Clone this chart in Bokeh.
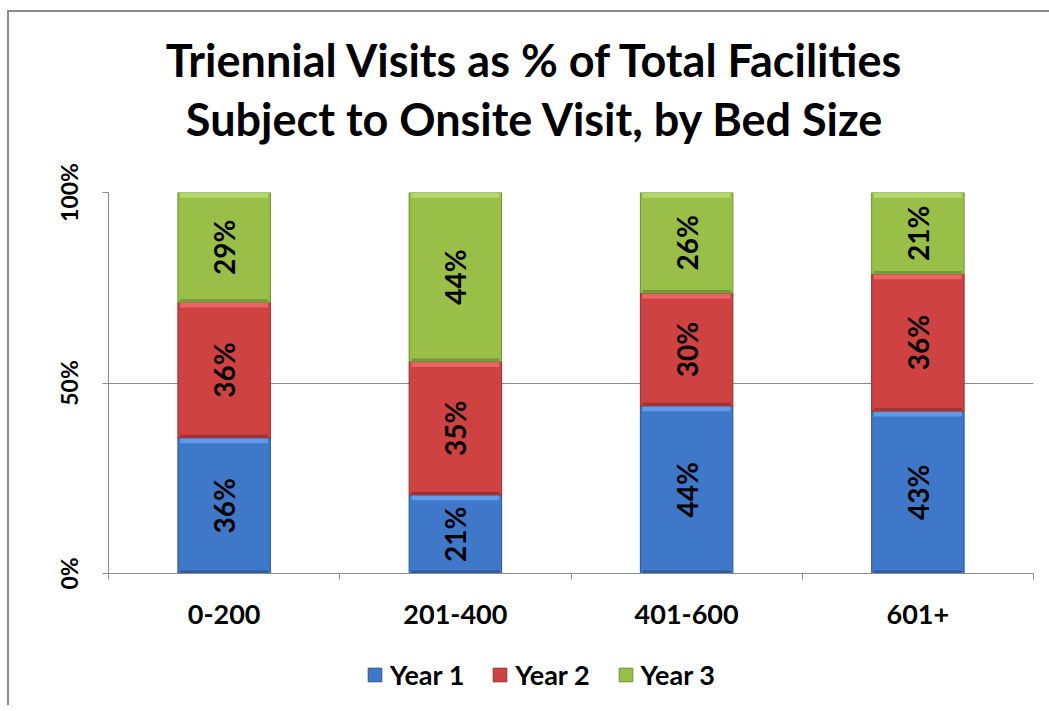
import math
from bokeh.plotting import figure
from bokeh.layouts import column
from bokeh.models import (ColumnDataSource, Range1d, FixedTicker, Legend,
                          LegendItem, Label)
from bokeh.core.properties import value
from bokeh.embed import file_html
from bokeh.resources import INLINE

# ---- data ----
categories = ["0-200", "201-400", "401-600", "601+"]
series = ["Year 1", "Year 2", "Year 3"]
year1 = [35.6, 20.6, 44.0, 42.6]
year2 = [35.6, 35.0, 29.6, 36.0]
year3 = [28.8, 44.4, 26.4, 21.4]
y_ticks = [0, 50, 100]
y_tick_labels = ["0%", "50%", "100%"]
title_lines = ["Triennial Visits as % of Total Facilities",
               "Subject to Onsite Visit, by Bed Size"]

colors = ["#3F77C9", "#CF4242", "#99BF49"]
light_colors = ["#5F9BE8", "#E96464", "#B4D868"]
dark_colors = ["#2D5A9E", "#A33030", "#76963A"]
edge_colors = ["#2C5590", "#9A2C2C", "#6F8F30"]
FONT = "Lato"
W = 1040
FW = 925  # plot-area width in px

# ---------------- title block ----------------
TH = 150
tp = figure(width=W, height=TH, x_range=Range1d(0, FW), y_range=Range1d(0, TH),
            min_border=0, output_backend="svg", toolbar_location=None)
tp.axis.visible = False
tp.grid.visible = False
tp.outline_line_color = None
for txt, ty in zip(title_lines, [TH - 47, TH - 106]):
    tp.add_layout(Label(x=427, y=ty, text=txt, text_align="center",
                        text_baseline="middle", text_font=FONT,
                        text_font_style="bold", text_font_size="45px",
                        text_color="black"))

# ---------------- chart ----------------
xs = [i + 0.5 for i in range(len(categories))]
src = ColumnDataSource({"x": xs, "Year 1": year1, "Year 2": year2, "Year 3": year3})

p = figure(frame_width=FW, frame_height=381,
           min_border_left=99, min_border_right=16,
           min_border_top=30, min_border_bottom=70,
           x_range=Range1d(0, len(categories)), y_range=Range1d(0, 100),
           output_backend="svg", toolbar_location=None,
           background_fill_color="white", border_fill_color="white")
p.outline_line_color = None

renderers = p.vbar_stack(series, x="x", width=0.4, source=src,
                         color=colors, line_color=edge_colors, line_width=1)

# bevel effect: light strip at top, darker strip at bottom of each segment
vals = [year1, year2, year3]
bx, btop, bbot, bcol = [], [], [], []
lx, ly, lt = [], [], []
for i in range(len(categories)):
    base = 0.0
    for s in range(3):
        v = vals[s][i]
        top = base + v
        bx += [xs[i], xs[i]]
        btop += [top - 0.15, base + 0.8]
        bbot += [top - 1.4, base + 0.15]
        bcol += [light_colors[s], dark_colors[s]]
        lx.append(xs[i])
        ly.append(base + v / 2)
        lt.append(f"{round(v)}%")
        base = top
p.vbar(x=bx, top=btop, bottom=bbot, width=0.38, color=bcol, line_color=None)

lsrc = ColumnDataSource(dict(x=lx, y=ly, t=lt))
p.text(x="x", y="y", text="t", source=lsrc, angle=math.pi / 2,
       text_align="center", text_baseline="middle",
       text_font=value(FONT), text_font_style="bold",
       text_font_size="28px", text_color="black")

p.yaxis.ticker = FixedTicker(ticks=y_ticks)
p.yaxis.major_label_overrides = {t: l for t, l in zip(y_ticks, y_tick_labels)}
p.yaxis.major_label_orientation = "parallel"
p.yaxis.major_label_text_font = FONT
p.yaxis.major_label_text_font_style = "bold"
p.yaxis.major_label_text_font_size = "23px"
p.yaxis.major_label_text_color = "black"
p.yaxis.axis_line_color = "#8C8C8C"
p.yaxis.major_tick_line_color = "#8C8C8C"
p.yaxis.major_tick_out = 6
p.yaxis.major_tick_in = 0
p.yaxis.minor_tick_line_color = None
p.yaxis.major_label_standoff = 20

p.xaxis.ticker = FixedTicker(ticks=xs, minor_ticks=list(range(len(categories) + 1)))
p.xaxis.major_label_overrides = {x: c for x, c in zip(xs, categories)}
p.xaxis.major_label_text_font = FONT
p.xaxis.major_label_text_font_style = "bold"
p.xaxis.major_label_text_font_size = "27px"
p.xaxis.major_label_text_color = "black"
p.xaxis.axis_line_color = "#8C8C8C"
p.xaxis.major_tick_line_color = None
p.xaxis.minor_tick_line_color = "#8C8C8C"
p.xaxis.minor_tick_out = 6
p.xaxis.minor_tick_in = 0
p.xaxis.major_label_standoff = 25

p.xgrid.grid_line_color = None
p.ygrid.ticker = FixedTicker(ticks=y_ticks)
p.ygrid.grid_line_color = "#8C8C8C"

# ---------------- legend block ----------------
LH = 62
lp = figure(width=W, height=LH, x_range=Range1d(0, len(categories)),
            y_range=Range1d(1000, 1001),  # keeps the proxy bars out of view
            min_border=0, output_backend="svg", toolbar_location=None)
lp.axis.visible = False
lp.grid.visible = False
lp.outline_line_color = None
leg_renderers = lp.vbar_stack(series, x="x", width=0.4, source=src,
                              color=colors, line_color=edge_colors)
items = [LegendItem(label=s, renderers=[r]) for s, r in zip(series, leg_renderers)]
legend = Legend(items=items, orientation="horizontal", location=(258, 14),
                label_text_font=FONT, label_text_font_style="bold",
                label_text_font_size="27px", label_text_color="black",
                glyph_width=17, glyph_height=17, label_standoff=7, spacing=27,
                border_line_color=None, background_fill_alpha=0,
                margin=0, padding=0)
lp.add_layout(legend)

layout = column(tp, p, lp, spacing=0)
layout.margin = (10, 0, 0, 7)
layout.styles = {"border-left": "2px solid #8C8C8C", "border-top": "2px solid #8C8C8C"}

open("out.html", "w").write(file_html(layout, INLINE))
